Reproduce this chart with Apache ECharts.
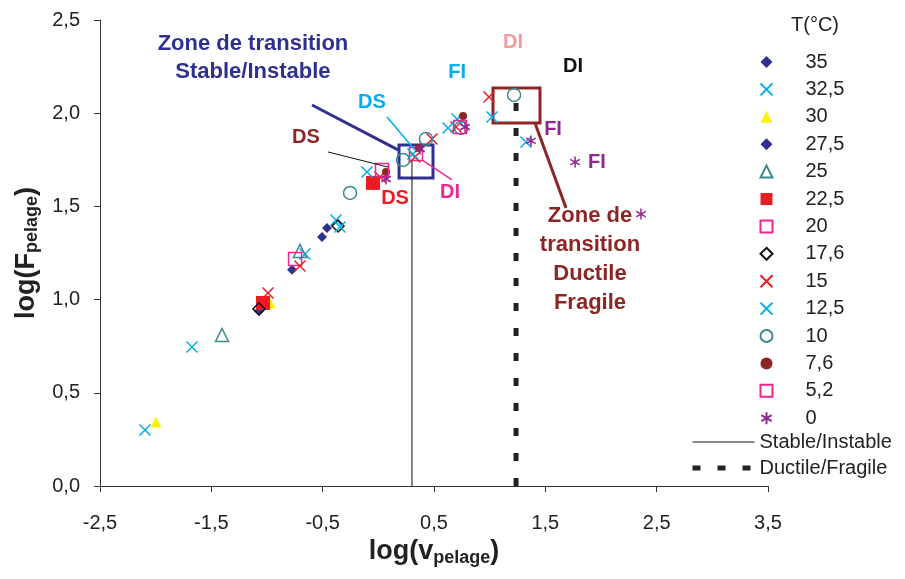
<!DOCTYPE html>
<html><head><meta charset="utf-8">
<script src="https://cdn.jsdelivr.net/npm/echarts@6/dist/echarts.min.js"></script>
<style>html,body{margin:0;padding:0;background:#fff}#c{width:905px;height:579px}</style>
</head><body><div id="c"></div>
<script>
// ---- data ----
const xTicks = [-2.5, -1.5, -0.5, 0.5, 1.5, 2.5, 3.5];
const yTicks = [0, 0.5, 1, 1.5, 2, 2.5];
const temps = ['35', '32,5', '30', '27,5', '25', '22,5', '20', '17,6', '15', '12,5', '10', '7,6', '5,2', '0'];
const t35   = [[-0.775, 1.16], [-0.506, 1.336]];
const t32_5 = [[-2.096, 0.30], [-1.674, 0.746], [-0.659, 1.245], [-0.38, 1.427]];
const t30   = [[-1.997, 0.343], [-0.973, 0.982]];
const t27_5 = [[-1.072, 0.939], [-0.461, 1.384]];
const t25   = [[-1.404, 0.81], [-0.704, 1.261]];
const t22_5 = [[-1.036, 0.982], [-0.048, 1.626]];
const t20   = [[-0.748, 1.218], [0.338, 1.781]];
const t17_6 = [[-1.072, 0.95], [-0.362, 1.395]];
const t15   = [[-0.991, 1.035], [-0.704, 1.18], [0.015, 1.658], [0.329, 1.765], [0.482, 1.862], [0.698, 1.926], [0.994, 2.087]];
const t12_5 = [[-0.344, 1.389], [-0.102, 1.685], [0.311, 1.781], [0.626, 1.921], [0.707, 1.969], [1.021, 1.98], [1.326, 1.845]];
const t10   = [[-0.254, 1.572], [0.222, 1.749], [0.428, 1.862], [0.743, 1.921], [1.219, 2.098]];
const t7_6  = [[0.069, 1.685], [0.365, 1.813], [0.761, 1.985]];
const t5_2  = [[0.033, 1.695], [0.734, 1.926]];
const t0    = [[0.069, 1.647], [0.374, 1.808], [0.779, 1.926], [1.371, 1.851], [1.767, 1.738], [2.359, 1.459]];
const stableLimit  = [[0.302, 0], [0.302, 1.75]];
const ductileLimit = [[1.237, 0], [1.237, 2.1]];
const lineNames = ['Stable/Instable', 'Ductile/Fragile'];

// ---- styles ----
const X = 'path://M0,0L10,10M10,0L0,10';
const AST = 'path://M5,0L5,10M0.67,2.5L9.33,7.5M0.67,7.5L9.33,2.5';
const NAVY = '#2E3192', CYAN = '#00AEEF', YEL = '#FFF200', TEAL = '#3A8A8F', RED = '#ED1C24',
      PINK = '#EC268F', BROWN = '#8E2525', PURP = '#92278F';
const seriesData = [t35, t32_5, t30, t27_5, t25, t22_5, t20, t17_6, t15, t12_5, t10, t7_6, t5_2, t0];
const styles = [
  {symbol: 'diamond', size: 10, color: NAVY},
  {symbol: X, size: 11, color: 'none', border: CYAN, bw: 1.5},
  {symbol: 'triangle', size: 11, color: YEL},
  {symbol: 'diamond', size: 10, color: NAVY},
  {symbol: 'triangle', size: 13, color: 'none', border: TEAL, bw: 1.5},
  {symbol: 'rect', size: 14, color: RED},
  {symbol: 'rect', size: 13, color: 'none', border: PINK, bw: 1.5},
  {symbol: 'diamond', size: 12, color: 'none', border: '#111', bw: 1.5},
  {symbol: X, size: 11, color: 'none', border: RED, bw: 1.5},
  {symbol: X, size: 11, color: 'none', border: CYAN, bw: 1.5},
  {symbol: 'circle', size: 13, color: 'none', border: TEAL, bw: 1.5},
  {symbol: 'circle', size: 8, color: BROWN},
  {symbol: 'rect', size: 13, color: 'none', border: PINK, bw: 1.5},
  {symbol: AST, size: 11, color: 'none', border: PURP, bw: 1.5}
];

// annotations (data coordinates)
const notes = [
  {t: 'Zone de transition\nStable/Instable', p: [-1.126, 2.296], c: NAVY, lh: 28},
  {t: 'Zone de\ntransition\nDuctile\nFragile', p: [1.901, 1.218], c: BROWN, lh: 29},
  {t: 'DS', p: [-0.65, 1.872], c: BROWN},
  {t: 'DS', p: [-0.057, 2.055], c: CYAN},
  {t: 'DS', p: [0.15, 1.545], c: RED},
  {t: 'DI', p: [0.644, 1.577], c: PINK},
  {t: 'FI', p: [0.707, 2.216], c: CYAN},
  {t: 'DI', p: [1.21, 2.377], c: '#F39A9A'},
  {t: 'DI', p: [1.749, 2.253], c: '#111'},
  {t: 'FI', p: [1.569, 1.915], c: PURP},
  {t: 'FI', p: [1.964, 1.738], c: PURP}
];
const connectors = [
  {a: [-0.596, 2.044], b: [0.177, 1.803], c: NAVY, w: 3},
  {a: [-0.452, 1.792], b: [0.087, 1.711], c: '#111', w: 1},
  {a: [0.078, 1.98], b: [0.329, 1.803], c: CYAN, w: 1.5},
  {a: [0.392, 1.749], b: [0.662, 1.642], c: PINK, w: 1.5},
  {a: [1.407, 1.947], b: [1.686, 1.491], c: BROWN, w: 3}
];
const boxes = [
  {a: [0.186, 1.652], b: [0.491, 1.829], c: NAVY},
  {a: [1.03, 1.947], b: [1.452, 2.135], c: BROWN}
];

const FONT = '"Liberation Sans", Arial, sans-serif';
const fmt = v => Number(v).toFixed(1).replace('.', ',');

const series = temps.map((name, i) => {
  const s = styles[i];
  return {
    name, type: 'scatter', z: 3,
    data: seriesData[i],
    symbol: s.symbol, symbolSize: s.size, symbolKeepAspect: true,
    itemStyle: s.border ? {color: s.color, borderColor: s.border, borderWidth: s.bw, opacity: 1}
                        : {color: s.color, opacity: 1},
    emphasis: {disabled: true}
  };
});
series.push({
  name: lineNames[0], type: 'line', z: 2, data: stableLimit, symbol: 'none', showSymbol: false,
  itemStyle: {color: '#111'},
  lineStyle: {color: '#111', width: 1}
});
series.push({
  name: lineNames[1], type: 'line', z: 2, data: ductileLimit, symbol: 'none', showSymbol: false,
  itemStyle: {color: '#222'},
  lineStyle: {color: '#222', width: 5, type: [8, 17]}
});
series.push({
  name: 'notes', type: 'scatter', z: 1, symbolSize: 0, silent: true,
  itemStyle: {opacity: 1, color: 'rgba(0,0,0,0)'},
  data: notes.map(n => ({
    value: n.p,
    label: {show: true, position: 'inside', formatter: n.t, color: n.c, opacity: 1,
            fontFamily: FONT, fontWeight: 'bold', fontSize: n.lh ? 22 : 20, lineHeight: n.lh || 22, align: 'center'}
  })),
  markLine: {
    silent: true, symbol: 'none', animation: false, label: {show: false},
    data: connectors.map(l => [{coord: l.a, lineStyle: {color: l.c, width: l.w, type: 'solid', opacity: 1}}, {coord: l.b}])
  },
  markArea: {
    silent: true, animation: false,
    data: boxes.map(b => [{coord: b.a, itemStyle: {color: 'rgba(0,0,0,0)', borderColor: b.c, borderWidth: 3, opacity: 1}}, {coord: b.b}])
  }
});

const chart = echarts.init(document.getElementById('c'), null, {renderer: 'canvas'});
chart.setOption({
  animation: false,
  backgroundColor: '#fff',
  textStyle: {fontFamily: FONT},
  title: {text: 'T(°C)', left: 786, top: 10, textStyle: {fontFamily: FONT, fontSize: 20, fontWeight: 'normal', color: '#222'}},
  grid: {left: 100, right: 137, top: 20, bottom: 93},
  legend: [
    {data: temps, orient: 'vertical', left: 753, top: 47, itemWidth: 12, itemHeight: 12, itemGap: 7.4,
     selectedMode: false,
     textStyle: {fontFamily: FONT, fontSize: 20, color: '#222', padding: [0, 0, 0, 28]}},
    {data: [
       {name: lineNames[0], itemStyle: {opacity: 0}, lineStyle: {color: '#111', width: 1.2, type: 'solid'}},
       {name: lineNames[1], itemStyle: {opacity: 0}, lineStyle: {color: '#222', width: 5, type: [8, 17]}}
     ],
     orient: 'vertical', left: 685, top: 427, itemWidth: 62, itemHeight: 14, itemGap: 6,
     selectedMode: false,
     itemStyle: {opacity: 0},
     textStyle: {fontFamily: FONT, fontSize: 20, color: '#222'}}
  ],
  xAxis: {
    type: 'value', min: -2.5, max: 3.5, interval: 0.5,
    name: '{a|log(v}{b|pelage}{a|)}', nameLocation: 'middle', nameGap: 51,
    nameTextStyle: {rich: {
      a: {fontFamily: FONT, fontSize: 27, fontWeight: 'bold', color: '#222', lineHeight: 30},
      b: {fontFamily: FONT, fontSize: 18, fontWeight: 'bold', color: '#222', lineHeight: 16, verticalAlign: 'bottom'}
    }},
    axisLine: {onZero: false, lineStyle: {color: '#333', width: 1}},
    axisTick: {show: true, length: 6, lineStyle: {color: '#333'}, customValues: xTicks},
    axisLabel: {customValues: xTicks, formatter: fmt, fontFamily: FONT, fontSize: 20, color: '#222', margin: 27},
    splitLine: {show: false}
  },
  yAxis: {
    type: 'value', min: 0, max: 2.5, interval: 0.5,
    name: '{a|log(F}{b|pelage}{a|)}', nameLocation: 'middle', nameGap: 47,
    nameTextStyle: {rich: {
      a: {fontFamily: FONT, fontSize: 27, fontWeight: 'bold', color: '#222', lineHeight: 30},
      b: {fontFamily: FONT, fontSize: 18, fontWeight: 'bold', color: '#222', lineHeight: 16, verticalAlign: 'bottom'}
    }},
    axisLine: {show: true, onZero: false, lineStyle: {color: '#333', width: 1}},
    axisTick: {show: true, length: 6, lineStyle: {color: '#333'}, customValues: yTicks},
    axisLabel: {customValues: yTicks, formatter: fmt, fontFamily: FONT, fontSize: 20, color: '#222', margin: 20},
    splitLine: {show: false}
  },
  series
});
</script></body></html>
